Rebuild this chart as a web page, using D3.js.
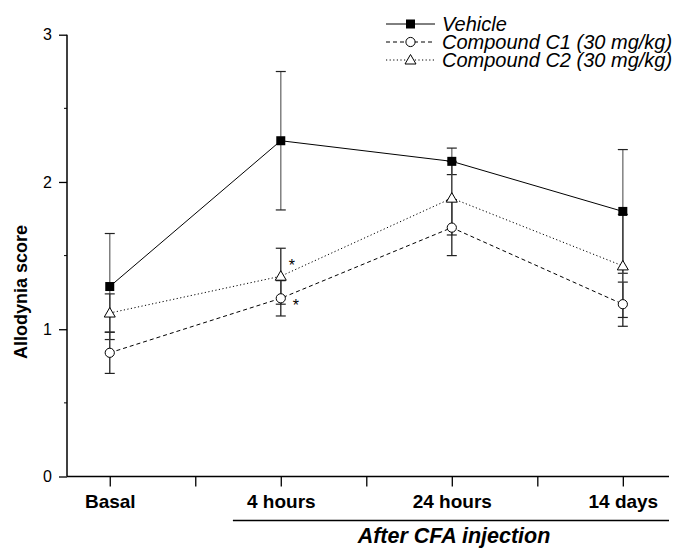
<!DOCTYPE html>
<html>
<head>
<meta charset="utf-8">
<script src="https://cdn.jsdelivr.net/npm/d3@7"></script>
<style>
  body { margin: 0; background: #fff; }
  text { font-family: Arial, "Liberation Sans", sans-serif; }
</style>
</head>
<body>
<svg id="chart" width="691" height="550"></svg>
<script>
// data
const categories = ["Basal", "4 hours", "24 hours", "14 days"];
const vehicle = [1.29, 2.28, 2.14, 1.80];
const vehicleSem = [0.36, 0.47, 0.09, 0.42];
const compoundC1 = [0.84, 1.21, 1.69, 1.17];
const compoundC1Sem = [0.14, 0.12, 0.19, 0.15];
const compoundC2 = [1.11, 1.36, 1.89, 1.43];
const compoundC2Sem = [0.13, 0.19, 0.25, 0.35];
const yTicks = [0, 1, 2, 3];
const legendLabels = ["Vehicle", "Compound C1 (30 mg/kg)", "Compound C2 (30 mg/kg)"];
// asterisks: category index and which series they sit next to
const starMarks = [{ i: 1, series: "c2" }, { i: 1, series: "c1" }];

let svg = d3.select("#chart");

let x = d3.scaleLinear().domain([-0.25, 3.27]).range([67, 669]);
let y = d3.scaleLinear().domain([0, 3]).range([476.5, 34.7]);

let series = [
  { key: "vehicle", values: vehicle, sem: vehicleSem, dash: null, marker: "square", barColor: "#808080" },
  { key: "c1", values: compoundC1, sem: compoundC1Sem, dash: "4,3", marker: "circle", barColor: "#404040" },
  { key: "c2", values: compoundC2, sem: compoundC2Sem, dash: "1.2,2.4", marker: "triangle", barColor: "#404040" },
];

// axes
let yAxis = svg.append("g")
  .attr("transform", `translate(${x.range()[0]},0)`)
  .call(d3.axisLeft(y).tickValues(yTicks).tickFormat(d3.format("d")).tickSize(8).tickPadding(7));
yAxis.select(".domain").attr("d", `M0,${y(3)}V${y(0)}`).attr("stroke", "#000").attr("stroke-width", 1.5);
yAxis.selectAll(".tick line").attr("stroke", "#000").attr("stroke-width", 1.3);
yAxis.selectAll(".tick text").attr("font-size", 16).attr("fill", "#000");

svg.append("g")
  .attr("transform", `translate(${x.range()[0]},0)`)
  .selectAll("line")
  .data([0.5, 1.5, 2.5])
  .join("line")
  .attr("x1", -3).attr("x2", 0)
  .attr("y1", d => y(d)).attr("y2", d => y(d))
  .attr("stroke", "#000");

let xAxis = svg.append("g")
  .attr("transform", `translate(0,${y(0)})`)
  .call(d3.axisBottom(x).tickValues([0, 0.5, 1, 1.5, 2, 2.5, 3]).tickSize(10)
    .tickFormat(d => Number.isInteger(d) ? categories[d] : ""));
xAxis.select(".domain").attr("d", `M${x.range()[0]},0H${x.range()[1]}`).attr("stroke", "#000").attr("stroke-width", 1.5);
xAxis.selectAll(".tick line").attr("stroke", "#000").attr("stroke-width", 1.3);
xAxis.selectAll(".tick text")
  .attr("font-size", 19).attr("font-weight", "bold").attr("fill", "#000")
  .attr("y", 0).attr("dy", null)
  .attr("transform", "translate(0,31.5)");

// "After CFA injection" bracket
svg.append("line")
  .attr("x1", x(0.72)).attr("x2", x.range()[1])
  .attr("y1", 520.5).attr("y2", 520.5)
  .attr("stroke", "#000").attr("stroke-width", 1.3);
svg.append("text")
  .attr("x", 454)
  .attr("y", 543)
  .attr("text-anchor", "middle")
  .attr("font-size", 21.5).attr("font-weight", "bold").attr("font-style", "italic")
  .text("After CFA injection");

// y title
svg.append("text")
  .attr("transform", `translate(27,292) rotate(-90)`)
  .attr("text-anchor", "middle")
  .attr("font-size", 18).attr("font-weight", "bold")
  .text("Allodynia score");

// error bars
series.forEach(function (s) {
  let g = svg.append("g");
  s.values.forEach(function (v, i) {
    let cx = x(i);
    g.append("line")
      .attr("x1", cx).attr("x2", cx)
      .attr("y1", y(v - s.sem[i])).attr("y2", y(v + s.sem[i]))
      .attr("stroke", s.barColor).attr("stroke-width", 1.5);
    [v - s.sem[i], v + s.sem[i]].forEach(function (e) {
      g.append("line")
        .attr("x1", cx - 5).attr("x2", cx + 5)
        .attr("y1", y(e)).attr("y2", y(e))
        .attr("stroke", "#222").attr("stroke-width", 1.2);
    });
  });
});

// lines
let line = d3.line().x((d, i) => x(i)).y(d => y(d));
series.forEach(function (s) {
  svg.append("path")
    .datum(s.values)
    .attr("d", line)
    .attr("fill", "none")
    .attr("stroke", "#000")
    .attr("stroke-width", 1)
    .attr("stroke-dasharray", s.dash);
});

function drawMarker(g, type, cx, cy) {
  if (type === "square") {
    g.append("rect").attr("x", cx - 4.5).attr("y", cy - 4.5).attr("width", 9).attr("height", 9)
      .attr("fill", "#000");
  } else if (type === "circle") {
    g.append("circle").attr("cx", cx).attr("cy", cy).attr("r", 4.6)
      .attr("fill", "#fff").attr("stroke", "#000").attr("stroke-width", 1);
  } else {
    g.append("path")
      .attr("d", `M${cx},${cy - 5.5} L${cx + 5.5},${cy + 4} L${cx - 5.5},${cy + 4} Z`)
      .attr("fill", "#fff").attr("stroke", "#000").attr("stroke-width", 1);
  }
}

// markers
series.forEach(function (s) {
  let g = svg.append("g");
  s.values.forEach((v, i) => drawMarker(g, s.marker, x(i), y(v)));
});

// significance stars
starMarks.forEach(function (m) {
  let s = series.find(d => d.key === m.series);
  let v = s.values[m.i];
  let up = m.series === "c2";
  svg.append("text")
    .attr("x", x(m.i) + (up ? 8 : 12))
    .attr("y", y(v) + (up ? -5 : 13))
    .attr("font-size", 16)
    .text("*");
});

// legend
let legend = svg.append("g").attr("transform", "translate(386,24)");
series.forEach(function (s, k) {
  let row = legend.append("g").attr("transform", `translate(0,${k * 18})`);
  row.append("line")
    .attr("x1", 0).attr("x2", 49).attr("y1", 0).attr("y2", 0)
    .attr("stroke", "#000").attr("stroke-width", 1)
    .attr("stroke-dasharray", s.dash);
  drawMarker(row, s.marker, 24.5, 0);
  row.append("text")
    .attr("x", 56).attr("y", 6.5)
    .attr("font-size", 20).attr("font-style", "italic")
    .text(legendLabels[k]);
});
</script>
</body>
</html>
